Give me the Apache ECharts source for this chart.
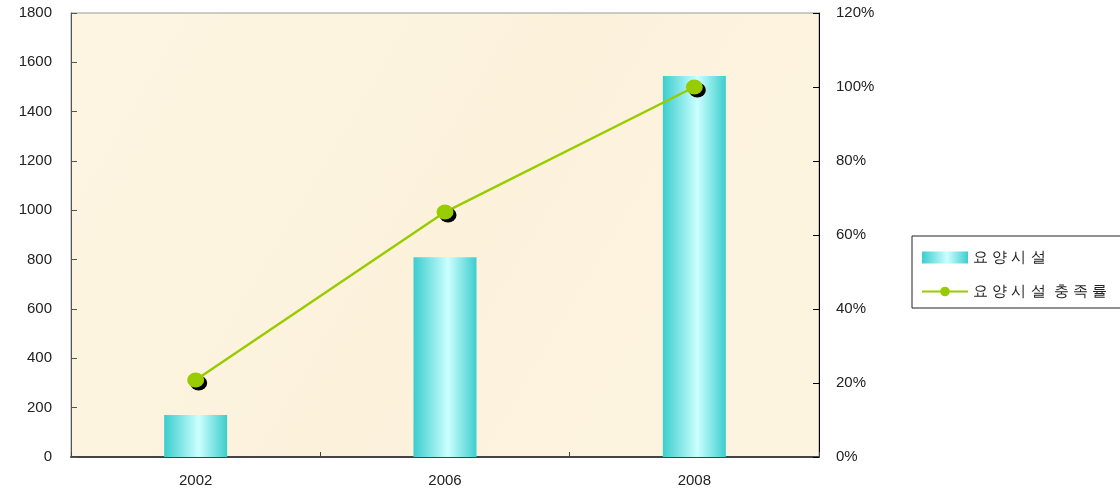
<!DOCTYPE html>
<html><head><meta charset="utf-8">
<script src="https://cdn.jsdelivr.net/npm/echarts@6/dist/echarts.min.js"></script>
<style>html,body{margin:0;padding:0;background:#fff}#c{width:1120px;height:492px}</style>
</head><body><div id="c"></div>
<script>
const categories = ['2002', '2006', '2008'];
const facilities = [170, 810, 1545];
const fulfillment = [20.8, 66.2, 100];
const leftTicks = [0, 1800, 200];
const rightTicks = [0, 120, 20];
const barName = '요 양 시 설';
const lineName = '요 양 시 설  충 족 률';

const chart = echarts.init(document.getElementById('c'));
const txt = {color: '#222', fontFamily: 'Liberation Sans, Arial, sans-serif', fontSize: 15};
chart.setOption({
  animation: false,
  grid: {left: 71, right: 301, top: 13, bottom: 35, show: true,
    backgroundColor: new echarts.graphic.LinearGradient(0, 0, 1, 1, [
      {offset: 0, color: '#FDF5E2'}, {offset: 0.5, color: '#FCF2DC'}, {offset: 1, color: '#FDF4E0'}]),
    borderColor: '#999', borderWidth: 1},
  legend: {
    orient: 'vertical', left: 912, top: 236, padding: [14, 14, 9, 9], itemGap: 19,
    borderColor: '#222', borderWidth: 1, backgroundColor: '#fff',
    itemWidth: 46, itemHeight: 12,
    textStyle: Object.assign({}, txt, {fontSize: 15}),
    data: [{name: barName, icon: 'rect'}, {name: lineName}]
  },
  xAxis: {
    type: 'category', data: categories,
    axisLine: {lineStyle: {color: '#444', width: 2}},
    axisTick: {show: true, inside: true, length: 5, lineStyle: {color: '#444'}},
    axisLabel: Object.assign({}, txt, {margin: 16})
  },
  yAxis: [{
    type: 'value', min: leftTicks[0], max: leftTicks[1], interval: leftTicks[2],
    splitLine: {show: false},
    axisLine: {show: true, lineStyle: {color: '#555'}},
    axisTick: {show: true, inside: true, length: 6, lineStyle: {color: '#555'}},
    axisLabel: Object.assign({}, txt, {margin: 19, formatter: v => String(v)})
  }, {
    type: 'value', min: rightTicks[0], max: rightTicks[1], interval: rightTicks[2],
    position: 'right', splitLine: {show: false},
    axisLine: {show: true, lineStyle: {color: '#000'}},
    axisTick: {show: true, inside: true, length: 6, lineStyle: {color: '#000'}},
    axisLabel: Object.assign({}, txt, {margin: 17, formatter: '{value}%'})
  }],
  series: [{
    name: barName, type: 'bar', data: facilities, barWidth: 63, yAxisIndex: 0,
    itemStyle: {color: new echarts.graphic.LinearGradient(0, 0, 1, 0, [
      {offset: 0, color: '#3CCDCD'}, {offset: 0.55, color: '#CCFFFF'}, {offset: 1, color: '#3CCDCD'}])}
  }, {
    name: lineName, type: 'line', data: fulfillment, yAxisIndex: 1,
    symbol: 'circle', symbolSize: [17, 15],
    lineStyle: {color: '#99CC00', width: 2.5},
    itemStyle: {color: '#99CC00', shadowColor: '#000', shadowOffsetX: 3, shadowOffsetY: 3, shadowBlur: 0}
  }]
});
</script></body></html>
